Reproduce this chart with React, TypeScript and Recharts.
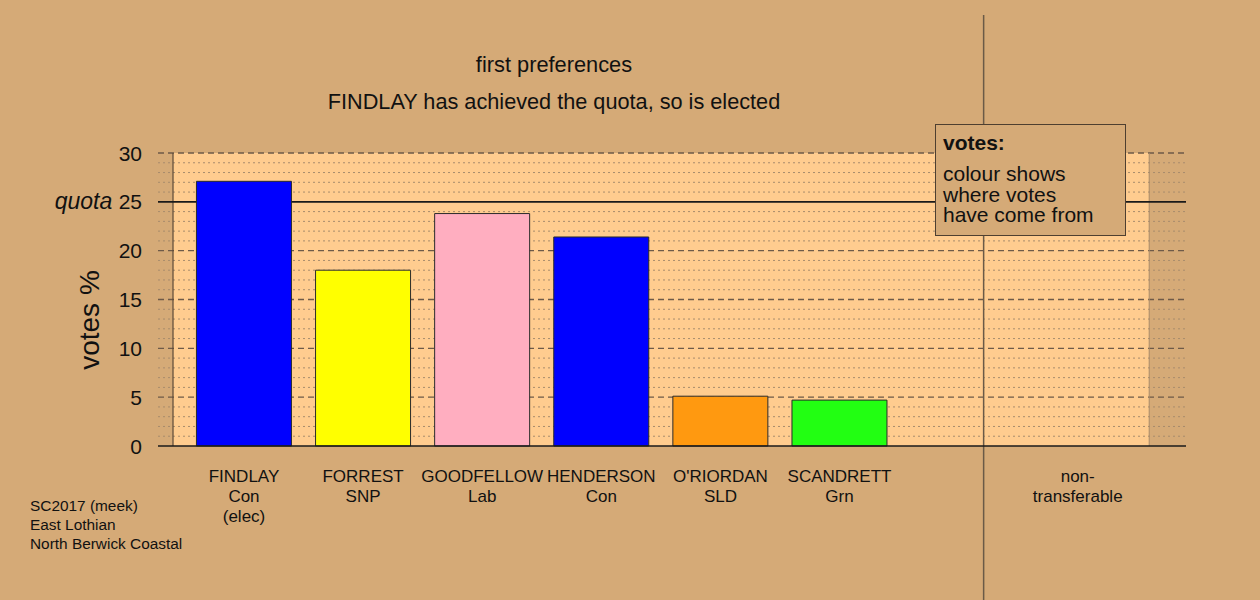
import React from "react";
import { BarChart, Bar, XAxis, YAxis, Cell, ReferenceLine, ReferenceArea } from "recharts";

// first preferences, votes %
const candidates = ["FINDLAY", "FORREST", "GOODFELLOW", "HENDERSON", "O'RIORDAN", "SCANDRETT"];
const parties = ["Con", "SNP", "Lab", "Con", "SLD", "Grn"];
const notes = ["(elec)", "", "", "", "", ""];
const votes = [27.1, 18.0, 23.8, 21.4, 5.1, 4.7];
const barColours = ["#0000ff", "#ffff00", "#ffaec0", "#0000ff", "#ff9910", "#22ff12"];
const yTicks = [0, 5, 10, 15, 20, 25, 30];
const quota = 25;
const nonTransferableLabel = ["non-", "transferable"];
const footnote = ["SC2017 (meek)", "East Lothian", "North Berwick Coastal"];
const legendLines = ["colour shows", "where votes", "have come from"];

// layout along the x axis (candidate slots are 1..6, non-transferable at 8)
const nonTransferablePos = 8;
const dividerPos = 7.21;
const panelFrom = 0.404;
const panelTo = 8.6;
const xDomain: [number, number] = [0.278, 8.909];

const BG = "#d5aa77";
const PANEL = "#ffcc8f";
const FONT = "'Liberation Sans', Arial, Helvetica, sans-serif";

const data = candidates.map((name, i) => ({ pos: i + 1, name, votes: votes[i] }));
const xTicks = [...candidates.map((_, i) => i + 1), nonTransferablePos];

const minorLines: number[] = [];
for (let v = 1; v < 30; v++) if (v % 5 !== 0) minorLines.push(v);
const majorLines = yTicks.filter((v) => v !== 0 && v !== quota);

const XTick = ({ x, y, payload }: any) => {
  const v = payload.value;
  const lines =
    v === nonTransferablePos
      ? nonTransferableLabel
      : [candidates[v - 1], parties[v - 1], notes[v - 1]].filter(Boolean);
  return (
    <text x={x} y={y} textAnchor="middle" fontSize={17} fill="#111" fontFamily={FONT}>
      {lines.map((l, i) => (
        <tspan key={i} x={x} dy={i === 0 ? 36 : 20}>
          {l}
        </tspan>
      ))}
    </text>
  );
};

const YTick = ({ x, y, payload }: any) => (
  <text x={x} y={y} dy="0.36em" textAnchor="end" fontSize={21} fill="#111" fontFamily={FONT} style={{ whiteSpace: "pre" }}>
    {payload.value === quota && (
      <tspan fontStyle="italic" fontSize={23}>
        {"quota "}
      </tspan>
    )}
    <tspan>{payload.value}</tspan>
  </text>
);

const Divider = (p: any) => {
  const top = Math.min(p.y1, p.y2);
  const bottom = Math.max(p.y1, p.y2);
  return <line x1={p.x1} x2={p.x2} y1={top - 138} y2={bottom + 154} stroke="#6b5a47" strokeWidth={1.5} />;
};

export default function App() {
  return (
    <div
      style={{
        position: "absolute",
        left: 0,
        top: 0,
        width: 1260,
        height: 600,
        background: BG,
        fontFamily: FONT,
        color: "#111",
        overflow: "hidden",
      }}
    >
      <BarChart width={1260} height={600} data={data} margin={{ top: 153, right: 74, bottom: 94, left: 98 }}>
        <XAxis
          type="number"
          dataKey="pos"
          domain={xDomain}
          allowDataOverflow
          ticks={xTicks}
          tick={<XTick />}
          tickLine={false}
          tickSize={0}
          tickMargin={0}
          height={60}
          axisLine={{ stroke: "#1a1a1a", strokeWidth: 1.5 }}
          interval={0}
        />
        <YAxis
          type="number"
          domain={[0, 30]}
          ticks={yTicks}
          tick={<YTick />}
          tickLine={false}
          axisLine={false}
          tickSize={0}
          tickMargin={16}
          width={60}
          interval={0}
        />
        <ReferenceArea x1={panelFrom} x2={panelTo} y1={0} y2={30} fill={PANEL} fillOpacity={1} stroke="none" zIndex={-300} />
        {minorLines.map((v) => (
          <ReferenceLine key={`m${v}`} y={v} stroke="#a88c6c" strokeDasharray="2 3" strokeWidth={1} zIndex={-200} />
        ))}
        {majorLines.map((v) => (
          <ReferenceLine key={`M${v}`} y={v} stroke="#6e5a48" strokeDasharray="6 4" strokeWidth={1.3} zIndex={-200} />
        ))}
        <ReferenceLine x={panelFrom} stroke="#5c4a38" strokeWidth={1.2} zIndex={-150} />
        <ReferenceLine x={panelTo} stroke="#a88a6a" strokeWidth={1} zIndex={-150} />
        <ReferenceLine y={quota} stroke="#1a1a1a" strokeWidth={1.6} zIndex={-150} />
        <ReferenceLine x={dividerPos} shape={<Divider />} zIndex={-100} />
        <Bar dataKey="votes" barSize={95} stroke="#2a2a2a" strokeWidth={1} isAnimationActive={false}>
          {data.map((d, i) => (
            <Cell key={d.name} fill={barColours[i]} />
          ))}
        </Bar>
      </BarChart>

      <div style={{ position: "absolute", left: 0, width: 1108, top: 52, textAlign: "center", fontSize: 21.8, lineHeight: "26px" }}>
        first preferences
      </div>
      <div style={{ position: "absolute", left: 0, width: 1108, top: 89, textAlign: "center", fontSize: 21.7, lineHeight: "26px" }}>
        FINDLAY has achieved the quota, so is elected
      </div>

      <div
        style={{
          position: "absolute",
          left: 40,
          top: 303,
          width: 100,
          height: 34,
          lineHeight: "34px",
          textAlign: "center",
          fontSize: 28,
          transform: "rotate(-90deg)",
          transformOrigin: "50% 50%",
        }}
      >
        votes %
      </div>

      <div
        style={{
          position: "absolute",
          left: 935,
          top: 124,
          width: 189,
          height: 110,
          background: BG,
          border: "1px solid #4e3f30",
          fontSize: 21,
          lineHeight: "20.5px",
        }}
      >
        <div style={{ position: "absolute", left: 7, top: 8, fontWeight: "bold" }}>votes:</div>
        <div style={{ position: "absolute", left: 7, top: 39 }}>
          {legendLines.map((l) => (
            <div key={l}>{l}</div>
          ))}
        </div>
      </div>

      <div style={{ position: "absolute", left: 30, top: 496, fontSize: 15.4, lineHeight: "19px" }}>
        {footnote.map((l) => (
          <div key={l}>{l}</div>
        ))}
      </div>
    </div>
  );
}
